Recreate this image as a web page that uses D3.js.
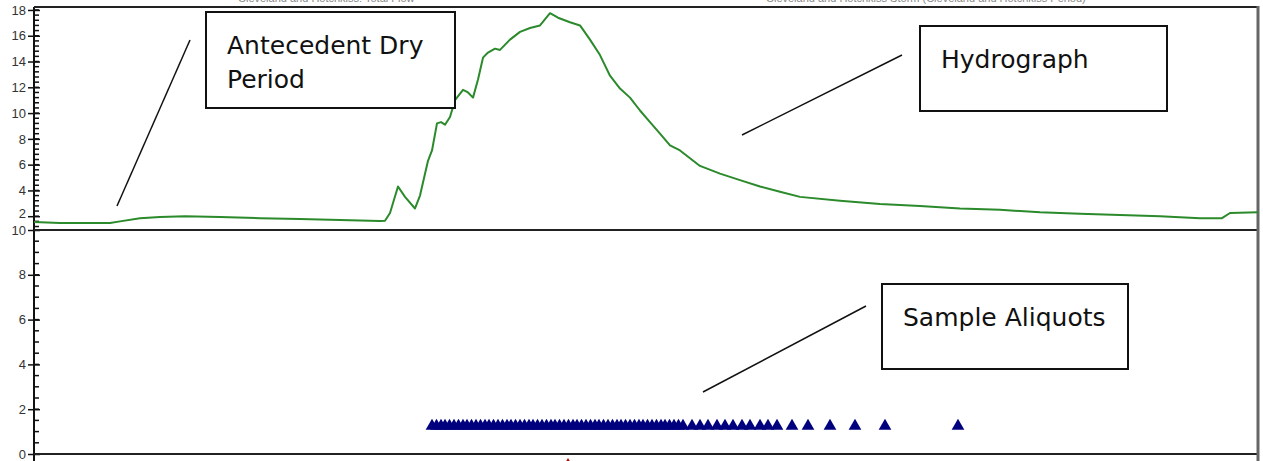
<!DOCTYPE html>
<html lang="en">
<head>
  <meta charset="UTF-8">
  <title>Hydrograph and Sample Aliquots</title>
  <script src="https://d3js.org/d3.v7.min.js"></script>
  <style>
    body {
      margin: 0;
      background: #fff;
      overflow: hidden;
    }
    .tick text {
      font-family: Arial, "Liberation Sans", sans-serif;
      font-size: 13px;
      fill: #333;
    }
    .note {
      font-family: "DejaVu Sans", sans-serif;
      font-size: 25px;
      fill: #111;
    }
    .title {
      font: 11px Arial, "Liberation Sans", sans-serif;
      fill: #888;
    }
  </style>
</head>
<body>
<script>
// time in minutes from start of record, flow in cfs
const flowTime = [0, 52, 152, 172, 212, 252, 302, 372, 452, 532, 612, 692, 702, 712, 728, 742, 762, 772, 788, 796,
  806, 814, 822, 832, 842, 858, 868, 878, 888, 898, 908, 922, 932, 952, 972, 992, 1012, 1032, 1048, 1072,
  1092, 1112, 1132, 1152, 1172, 1192, 1212, 1232, 1252, 1272, 1292, 1312, 1332, 1372, 1412, 1452, 1492, 1532,
  1612, 1692, 1772, 1852, 1932, 2012, 2092, 2172, 2252, 2332, 2376, 2392, 2448];
const flowValue = [1.55, 1.47, 1.47, 1.6, 1.85, 1.94, 2.0, 1.94, 1.85, 1.78, 1.7, 1.63, 1.65, 2.25, 4.3, 3.5, 2.6, 3.6, 6.3, 7.1,
  9.2, 9.3, 9.1, 9.7, 11.0, 11.8, 11.6, 11.2, 12.6, 14.3, 14.7, 15.0, 14.9, 15.7, 16.3, 16.6, 16.8, 17.75, 17.4, 17.05,
  16.8, 15.7, 14.5, 12.9, 11.9, 11.2, 10.2, 9.3, 8.4, 7.5, 7.1, 6.5, 5.9, 5.3, 4.8, 4.3, 3.9, 3.5,
  3.2, 2.95, 2.8, 2.6, 2.5, 2.3, 2.2, 2.1, 2.0, 1.85, 1.85, 2.25, 2.3];

// aliquot sample times (minutes), all at the same marker level
const aliquotTime = [796, 805, 814, 822, 831, 840, 849, 858, 866, 875, 884, 893, 902, 910, 919, 928, 937, 946, 954, 963,
  972, 981, 990, 998, 1007, 1016, 1025, 1034, 1042, 1051, 1060, 1069, 1078, 1086, 1095, 1104, 1113, 1122, 1130, 1139,
  1148, 1157, 1166, 1174, 1183, 1192, 1201, 1210, 1218, 1227, 1236, 1245, 1254, 1262, 1271, 1280, 1289, 1298, 1316, 1332,
  1348, 1366, 1382, 1398, 1416, 1432, 1452, 1468, 1486, 1516, 1548, 1592, 1642, 1702, 1848];
const aliquotLevel = 1.25;

const flowTicks = [2, 4, 6, 8, 10, 12, 14, 16, 18];
const aliquotTicks = [0, 2, 4, 6, 8, 10];

const notes = [
  { lines: ["Antecedent Dry", "Period"], box: [206, 12, 249, 96], pointer: [190, 40, 117, 206] },
  { lines: ["Hydrograph"], box: [920, 26, 247, 85], pointer: [902, 55, 742, 135] },
  { lines: ["Sample Aliquots"], box: [882, 284, 246, 85], pointer: [866, 306, 703, 392] }
];
const titles = [
  { text: "Cleveland and Hotchkiss: Total Flow", x: 238 },
  { text: "Cleveland and Hotchkiss Storm (Cleveland and Hotchkiss Period)", x: 766 }
];

const W = 1263, H = 461;
const left = 34, right = 1258;
const topY = 7, midY = 230, botY = 454;

const svg = d3.select("body").append("svg")
  .attr("width", W)
  .attr("height", H);

const x = d3.scaleLinear().domain([0, 2448]).range([left, right]);
const yFlow = d3.scaleLinear().domain([0.93, 18.23]).range([midY, topY]);
const yAli = d3.scaleLinear().domain([0, 10]).range([botY, midY]);

// titles, mostly cut off at the top
svg.selectAll(".title")
  .data(titles)
  .enter().append("text")
  .attr("class", "title")
  .attr("x", d => d.x)
  .attr("y", 2)
  .text(d => d.text);

// minor ticks
const flowMinor = d3.range(1.2, 18.21, 0.4);
svg.append("g").selectAll("line")
  .data(flowMinor)
  .enter().append("line")
  .attr("x1", left).attr("x2", left + 5)
  .attr("y1", d => yFlow(d)).attr("y2", d => yFlow(d))
  .attr("stroke", "#111").attr("stroke-width", 1.5);

const aliMinor = d3.range(0, 10, 0.5);
svg.append("g").selectAll("line")
  .data(aliMinor)
  .enter().append("line")
  .attr("x1", left).attr("x2", left + 5)
  .attr("y1", d => yAli(d)).attr("y2", d => yAli(d))
  .attr("stroke", "#111").attr("stroke-width", 1.5);

// axes
const flowAxis = svg.append("g")
  .attr("transform", `translate(${left},0)`)
  .call(d3.axisLeft(yFlow).tickValues(flowTicks).tickSize(6).tickPadding(2));
const aliAxis = svg.append("g")
  .attr("transform", `translate(${left},0)`)
  .call(d3.axisLeft(yAli).tickValues(aliquotTicks).tickSize(6).tickPadding(2));
[flowAxis, aliAxis].forEach(a => {
  a.attr("font-size", 13);
  a.select(".domain").remove();
  a.selectAll(".tick line")
    .attr("x2", -6).attr("x1", 6)
    .attr("stroke", "#111").attr("stroke-width", 1.5);
});
flowAxis.selectAll(".tick").filter(d => d === 2).select("text").attr("dy", "0.1em");

// frame
svg.append("line").attr("x1", left).attr("x2", left).attr("y1", topY).attr("y2", H)
  .attr("stroke", "#111").attr("stroke-width", 2);
[topY, midY, botY].forEach(yy => {
  svg.append("line").attr("x1", left).attr("x2", right).attr("y1", yy).attr("y2", yy)
    .attr("stroke", "#222").attr("stroke-width", 2);
});
svg.append("line").attr("x1", right).attr("x2", right).attr("y1", topY - 1).attr("y2", H)
  .attr("stroke", "#666").attr("stroke-width", 3);

// hydrograph
const line = d3.line()
  .x((d, i) => x(flowTime[i]))
  .y(d => yFlow(d));
svg.append("path")
  .datum(flowValue)
  .attr("fill", "none")
  .attr("stroke", "#2b8a2b")
  .attr("stroke-width", 2)
  .attr("stroke-linejoin", "round")
  .attr("d", line);

// aliquots
const tri = d3.symbol().type(d3.symbolTriangle).size(70);
svg.append("g").selectAll("path")
  .data(aliquotTime)
  .enter().append("path")
  .attr("d", tri)
  .attr("fill", "#00007f")
  .attr("transform", d => `translate(${x(d)},${yAli(aliquotLevel)})`);

// small red marker below the frame
svg.append("path")
  .attr("d", d3.symbol().type(d3.symbolTriangle).size(20))
  .attr("fill", "#b00000")
  .attr("transform", `translate(${x(1068)},${H + 1})`);

// annotations
notes.forEach(n => {
  const [bx, by, bw, bh] = n.box;
  svg.append("rect")
    .attr("x", bx).attr("y", by).attr("width", bw).attr("height", bh)
    .attr("fill", "#fff").attr("stroke", "#111").attr("stroke-width", 2);
  const [x1, y1, x2, y2] = n.pointer;
  svg.append("line").attr("x1", x1).attr("y1", y1).attr("x2", x2).attr("y2", y2)
    .attr("stroke", "#111").attr("stroke-width", 1.5);
  const t = svg.append("text").attr("class", "note");
  n.lines.forEach((s, i) => {
    t.append("tspan")
      .attr("x", bx + 21)
      .attr("y", by + 42 + i * 34)
      .text(s);
  });
});
</script>
</body>
</html>
